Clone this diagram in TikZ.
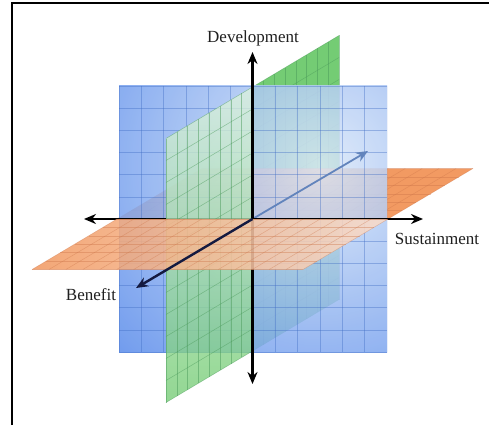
\documentclass[tikz,border=0pt]{standalone}
\usepackage{fontspec}
\setmainfont{Liberation Serif}
\usetikzlibrary{arrows.meta}
\definecolor{bluebase}{HTML}{4F84EA}
\definecolor{bluelight}{HTML}{DCE9F9}
\definecolor{bluegrid}{HTML}{3F6CC4}
\definecolor{greenbase}{HTML}{74CC74}
\definecolor{greenmid}{HTML}{A6DCB0}
\definecolor{greenlight}{HTML}{DDF2DF}
\definecolor{greengrid}{HTML}{4A9A5A}
\definecolor{orangebase}{HTML}{F29A62}
\definecolor{orangelight}{HTML}{F9DCCB}
\definecolor{orangegrid}{HTML}{CC7448}
\definecolor{navyaxis}{HTML}{141A40}
\definecolor{backaxis}{HTML}{6284BC}
\definecolor{labelgray}{HTML}{202020}
\begin{document}
\begin{tikzpicture}[x=1pt,y=-1pt,
  arrowend/.style={-{Stealth[length=12pt,width=10pt]}},
  bothends/.style={{Stealth[length=12pt,width=10pt]}-{Stealth[length=12pt,width=10pt]}},
  axisline/.style={line width=2.8pt, black},
  gridb/.style={bluegrid, line width=0.5pt, opacity=0.4},
  gridg/.style={greengrid, line width=0.5pt, opacity=0.5},
  grido/.style={orangegrid, line width=0.5pt, opacity=0.4},
  lbl/.style={font=\fontsize{17}{20}\selectfont, text=labelgray, inner sep=0pt},
  greenplane/.style={shift={(252.5pt,-219pt)}, x={(86.5pt,51.5pt)}, y={(0pt,132pt)}},
  orangeplane/.style={shift={(252.5pt,-219pt)}, x={(135.5pt,0pt)}, y={(85pt,50.5pt)}}]
\useasboundingbox (0,0) rectangle (489,425);
\fill[white] (0,0) rectangle (489,425);
\draw[line width=2pt] (12,425) -- (12,3.5) -- (489,3.5);

\coordinate (O) at (252.5,219);
\coordinate (AL) at (84,219);
\coordinate (AR) at (423,219);
\coordinate (AT) at (252.5,52);
\coordinate (AB) at (252.5,384);
\coordinate (BF) at (136,288);
\coordinate (BK) at (368,151);

% back half of green plane
\begin{scope}[greenplane]
  \fill[greenbase] (0,-1) -- (1,-1) -- (1,1) -- (0,1) -- cycle;
  \foreach \i in {0,...,8} \draw[gridg] (\i/8,-1) -- (\i/8,1);
  \foreach \j in {-6,...,6} \draw[gridg] (0,\j/6) -- (1,\j/6);
\end{scope}

% back half of orange plane
\begin{scope}[orangeplane]
  \fill[orangebase] (-1,0) -- (1,0) -- (1,1) -- (-1,1) -- cycle;
  \foreach \i in {-8,...,8} \draw[grido] (\i/8,0) -- (\i/8,1);
  \foreach \j in {0,...,6} \draw[grido] (-1,\j/6) -- (1,\j/6);
\end{scope}

% blue plane
\begin{scope}
  \clip (119,86) rectangle (387,352);
  \shade[inner color=bluelight, outer color=bluebase, opacity=0.86] (320,165) circle (300pt);
  \foreach \k in {0,...,12} {
    \draw[gridb] ({119+\k*268/12},86) -- ({119+\k*268/12},352);
    \draw[gridb] (119,{86+\k*266/12}) -- (387,{86+\k*266/12});
  }
\end{scope}

% back axis
\draw[line width=1.8pt, backaxis, arrowend] (O) -- (BK);
% horizontal axis
\draw[axisline, bothends] (AL) -- (AR);

% front half of green plane
\begin{scope}[greenplane]
  \shade[top color=greenlight, middle color=greenmid, bottom color=greenbase, opacity=0.78]
    (-1,-1) -- (0,-1) -- (0,1) -- (-1,1) -- cycle;
  \foreach \i in {-8,...,0} \draw[gridg] (\i/8,-1) -- (\i/8,1);
  \foreach \j in {-6,...,6} \draw[gridg] (-1,\j/6) -- (0,\j/6);
\end{scope}

% vertical axis
\draw[axisline, bothends] (AT) -- (AB);

% front half of orange plane
\begin{scope}[orangeplane]
  \shade[left color=orangebase, right color=orangelight, opacity=0.87]
    (-1,-1) -- (1,-1) -- (1,0) -- (-1,0) -- cycle;
  \foreach \i in {-8,...,8} \draw[grido] (\i/8,-1) -- (\i/8,0);
  \foreach \j in {-6,...,0} \draw[grido] (-1,\j/6) -- (1,\j/6);
\end{scope}

% benefit axis
\draw[line width=2.4pt, navyaxis, arrowend] (O) -- (BF);

\node[lbl] (dev) at (253,38) {Development};
\node[lbl] (sus) at (437,239) {Sustainment};
\node[lbl] (ben) at (91,295) {Benefit};
\end{tikzpicture}
\end{document}
